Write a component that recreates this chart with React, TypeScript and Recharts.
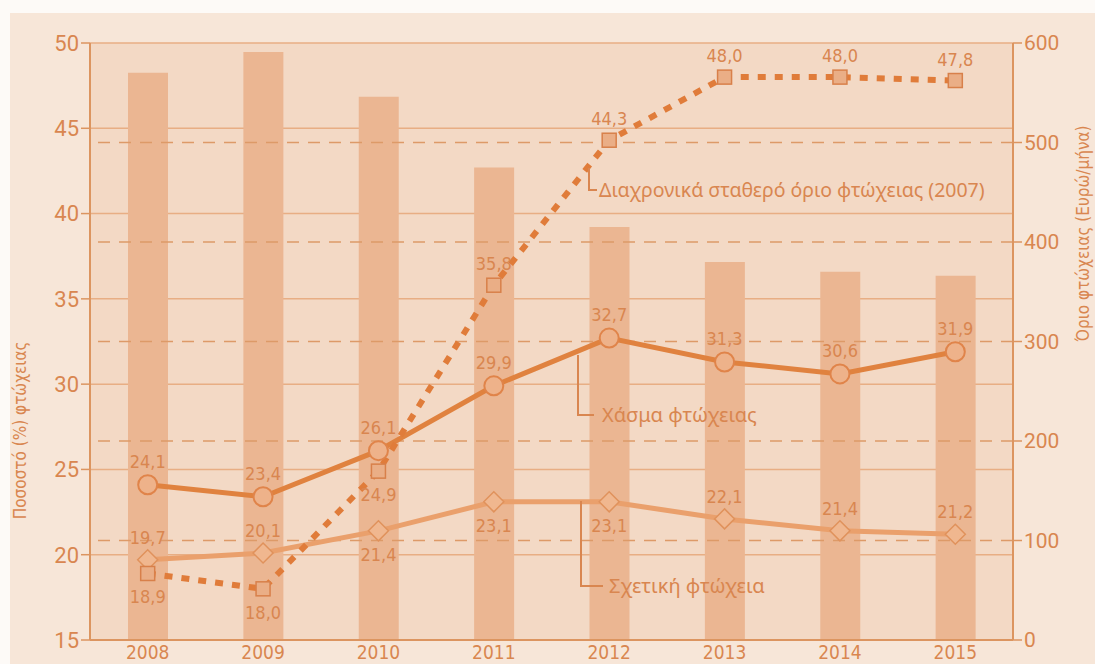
import React from 'react';
import {
  ComposedChart,
  Bar,
  Line,
  XAxis,
  YAxis,
  CartesianGrid,
  ReferenceLine,
  LabelList,
} from 'recharts';

const years = ['2008', '2009', '2010', '2011', '2012', '2013', '2014', '2015'];
const thresholdEuro = [570, 591, 546, 475, 415, 380, 370, 366];
const povertyGap = [24.1, 23.4, 26.1, 29.9, 32.7, 31.3, 30.6, 31.9];
const relativePoverty = [19.7, 20.1, 21.4, 23.1, 23.1, 22.1, 21.4, 21.2];
const fixedLinePoverty = [18.9, 18.0, 24.9, 35.8, 44.3, 48.0, 48.0, 47.8];
const leftTicks = [15, 20, 25, 30, 35, 40, 45, 50];
const rightTicks = [0, 100, 200, 300, 400, 500, 600];
const dashedLevels = [100, 200, 300, 400, 500];

// where each value label sits relative to its point
const gapLabelSide = ['top', 'top', 'top', 'top', 'top', 'top', 'top', 'top'];
const relLabelSide = ['top', 'top', 'bottom', 'bottom', 'bottom', 'top', 'top', 'top'];
const fixedLabelSide = ['bottom', 'bottom', 'bottom', 'top', 'top', 'top', 'top', 'top'];

const data = years.map((year, i) => ({
  year,
  threshold: thresholdEuro[i],
  gap: povertyGap[i],
  relative: relativePoverty[i],
  fixed: fixedLinePoverty[i],
}));

const TXT = '#d98650';
const NARROW = '"DejaVu Sans Condensed", "DejaVu Sans", sans-serif';
const fmt = (v: number) => v.toFixed(1).replace('.', ',');

const makeLabel = (sides: string[], up = 17, down = 28) => (props: any) => {
  const { x, y, value, index } = props;
  const side = sides[index];
  return (
    <text
      x={x}
      y={side === 'top' ? y - up : y + down}
      textAnchor="middle"
      fill={TXT}
      fontSize={18}
      fontFamily={NARROW}
      style={{ fontStretch: 'condensed' }}
    >
      {fmt(value)}
    </text>
  );
};

const Diamond = (props: any) => {
  const { cx, cy, index } = props;
  const s = 10;
  return (
    <path
      key={index}
      d={`M${cx},${cy - s} L${cx + s},${cy} L${cx},${cy + s} L${cx - s},${cy} Z`}
      fill="#f0b78f"
      stroke="#e0925c"
      strokeWidth={1.5}
    />
  );
};

const Square = (props: any) => {
  const { cx, cy, index } = props;
  const s = 7;
  return (
    <rect
      key={index}
      x={cx - s}
      y={cy - s}
      width={s * 2}
      height={s * 2}
      fill="#eaae86"
      stroke="#d8804a"
      strokeWidth={1.5}
    />
  );
};

const XTick = (props: any) => {
  const { x, y, payload } = props;
  return (
    <text
      x={x}
      y={y + 11}
      textAnchor="middle"
      fill={TXT}
      fontSize={19}
      fontFamily={NARROW}
      style={{ fontStretch: 'condensed' }}
    >
      {payload.value}
    </text>
  );
};

const App: React.FC = () => {
  return (
    <div style={{ position: 'absolute', left: 0, top: 0, width: 1095, height: 664, background: '#fdfaf7', overflow: 'hidden' }}>
      <div style={{ position: 'absolute', left: 10, top: 13, width: 1085, height: 651, background: '#f7e6d8' }} />
      <div style={{ position: 'absolute', left: 0, top: 0 }}>
        <ComposedChart width={1095} height={664} data={data} margin={{ top: 43, right: 22, bottom: 4, left: 30 }}>
          <CartesianGrid yAxisId="left" vertical={false} stroke="#e8ae84" strokeWidth={1.5} fill="#f3d9c5" fillOpacity={1} />
          {dashedLevels.map((v) => (
            <ReferenceLine key={v} yAxisId="right" y={v} stroke="#dd9a68" strokeWidth={1.3} strokeDasharray="12 9" />
          ))}
          <XAxis
            dataKey="year"
            height={20}
            tickLine={false}
            axisLine={{ stroke: '#dc9560', strokeWidth: 2 }}
            tick={<XTick />}
            interval={0}
          />
          <YAxis
            yAxisId="left"
            domain={[15, 50]}
            ticks={leftTicks}
            width={60}
            tickSize={9}
            axisLine={{ stroke: '#dc9560', strokeWidth: 2 }}
            tickLine={{ stroke: '#dc9560', strokeWidth: 1.5 }}
            tick={{ fill: TXT, fontSize: 22, fontFamily: 'Roboto, sans-serif' }}
            label={{
              value: 'Ποσοστό (%) φτώχειας',
              angle: -90,
              position: 'left',
              offset: 10,
              fill: TXT,
              fontSize: 17,
              fontFamily: NARROW,
              style: { fontStretch: 'condensed' },
            }}
          />
          <YAxis
            yAxisId="right"
            orientation="right"
            domain={[0, 600]}
            ticks={rightTicks}
            width={60}
            tickSize={9}
            axisLine={{ stroke: '#dc9560', strokeWidth: 2 }}
            tickLine={{ stroke: '#dc9560', strokeWidth: 1.5 }}
            tick={{ fill: TXT, fontSize: 21, fontFamily: 'Roboto, sans-serif' }}
            label={{
              value: 'Όριο φτώχειας (Ευρώ/μήνα)',
              angle: -90,
              position: 'right',
              offset: 10,
              fill: TXT,
              fontSize: 17,
              fontFamily: NARROW,
              style: { fontStretch: 'condensed' },
            }}
          />
          <Bar yAxisId="right" dataKey="threshold" fill="#ebb692" barSize={40} isAnimationActive={false} />
          <Line
            yAxisId="left"
            dataKey="relative"
            stroke="#eaa06c"
            strokeWidth={5}
            dot={<Diamond />}
            activeDot={false}
            isAnimationActive={false}
          >
            <LabelList dataKey="relative" content={makeLabel(relLabelSide, 16, 30)} />
          </Line>
          <Line
            yAxisId="left"
            dataKey="gap"
            stroke="#e0823f"
            strokeWidth={5}
            dot={{ r: 9.5, fill: '#eeb28a', stroke: '#e0844a', strokeWidth: 2 }}
            activeDot={false}
            isAnimationActive={false}
          >
            <LabelList dataKey="gap" content={makeLabel(gapLabelSide, 17, 28)} />
          </Line>
          <Line
            yAxisId="left"
            dataKey="fixed"
            stroke="#e07c3a"
            strokeWidth={6}
            strokeDasharray="8 9"
            dot={<Square />}
            activeDot={false}
            isAnimationActive={false}
          >
            <LabelList dataKey="fixed" content={makeLabel(fixedLabelSide, 15, 30)} />
          </Line>
        </ComposedChart>
      </div>
      {/* series names with their leader lines */}
      <svg width={1095} height={664} style={{ position: 'absolute', left: 0, top: 0, pointerEvents: 'none' }}>
        <g stroke={TXT} strokeWidth={2} fill="none">
          <polyline points="589,168 589,190 597,190" />
          <polyline points="578,355 578,415 594,415" />
          <polyline points="581,501 581,586 603,586" />
        </g>
        <g fill={TXT} fontFamily='"Noto Sans", sans-serif' fontSize={19.5}>
          <text x={599} y={197}>Διαχρονικά σταθερό όριο φτώχειας (2007)</text>
          <text x={602} y={422} fontSize={20}>Χάσμα φτώχειας</text>
          <text x={609} y={593} fontSize={20}>Σχετική φτώχεια</text>
        </g>
      </svg>
    </div>
  );
};

export default App;
